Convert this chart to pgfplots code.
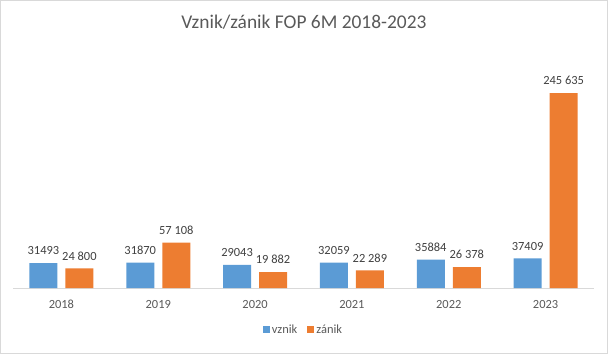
\documentclass[border=0pt]{standalone}
\usepackage{pgfplots}
\pgfplotsset{compat=1.18}
\usepackage{pgfplotstable}
\usepackage{fontspec}
\setmainfont{Carlito}
\definecolor{cblue}{HTML}{5B9BD5}
\definecolor{corange}{HTML}{ED7D31}
\definecolor{bordergray}{HTML}{D9D9D9}
\definecolor{titlegray}{HTML}{595959}
\definecolor{labelgray}{HTML}{404040}
\pgfplotstableread[col sep=comma]{
x,v,vl,z,zl
0,31493,31493,24800,24 800
1,31870,31870,57108,57 108
2,29043,29043,19882,19 882
3,32059,32059,22289,22 289
4,35884,35884,26378,26 378
5,37409,37409,245635,245 635
}\data
\begin{document}
\begin{tikzpicture}[x=1bp,y=1bp]
\useasboundingbox (0,0) rectangle (608,354);
\draw[color=bordergray, line width=0.75bp] (0.5,0.5) rectangle (607.5,353.5);
\node[font=\fontsize{19.5}{23}\selectfont, text=titlegray] at (304,332) {Vznik/zánik FOP 6M 2018-2023};
\begin{axis}[
  at={(13bp,66bp)}, anchor=south west,
  scale only axis, width=581bp, height=238bp,
  ybar=8bp, bar width=28bp,
  ymin=0, ymax=300000, xmin=-0.5, xmax=5.5,
  enlargelimits=false, clip=false,
  axis x line*=bottom, hide y axis,
  x axis line style={draw=bordergray, line width=0.75bp},
  xtick={0,1,2,3,4,5},
  xticklabels={2018,2019,2020,2021,2022,2023},
  major tick length=0pt,
  /pgf/number format/assume math mode=true,
  xticklabel style={font=\fontsize{12.5}{14}\selectfont, text=titlegray, inner sep=0pt, anchor=north, yshift=-12bp},
  nodes near coords,
  point meta=explicit symbolic,
  nodes near coords style={font=\fontsize{12.5}{14}\selectfont, text=labelgray, inner sep=0pt, anchor=south, yshift=8bp},
  legend style={at={(0.5,-0.176)}, anchor=center, draw=none, fill=none, legend columns=2,
    font=\fontsize{12.5}{14}\selectfont, text=titlegray, inner sep=0pt,
    /tikz/every even column/.append style={column sep=8bp}},
  legend image code/.code={\fill[#1] (0bp,-3.5bp) rectangle (7bp,3.5bp);},
]
\addplot[fill=cblue, draw=none] table[x=x, y=v, meta=vl] {\data};
\addplot[fill=corange, draw=none] table[x=x, y=z, meta=zl] {\data};
\legend{vznik,zánik}
\end{axis}
\end{tikzpicture}
\end{document}
